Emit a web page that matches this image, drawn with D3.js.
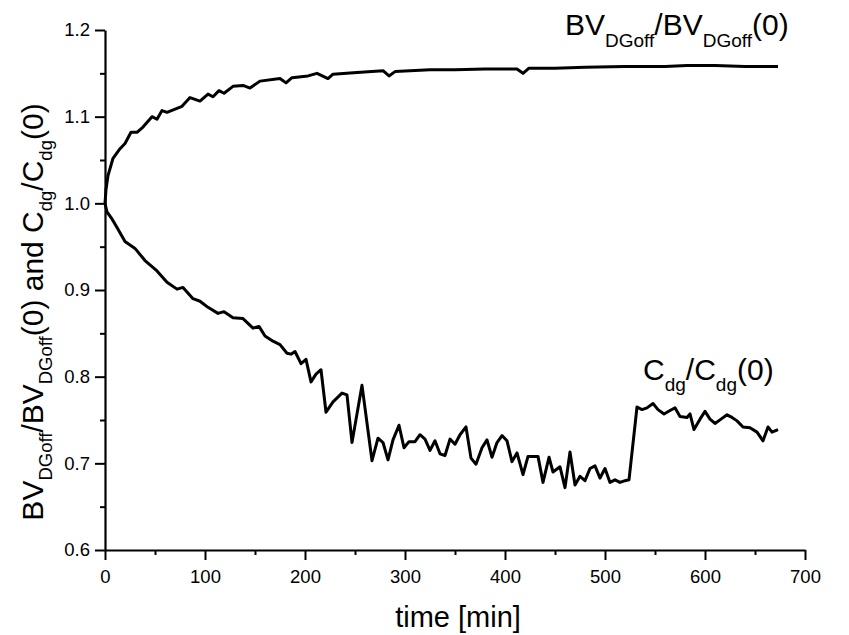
<!DOCTYPE html>
<html>
<head>
<meta charset="utf-8">
<script src="https://cdn.jsdelivr.net/npm/d3@7"></script>
<style>
  body { margin: 0; background: #fff; }
  svg text { font-family: "Liberation Sans", Arial, Helvetica, sans-serif; fill: #000; }
</style>
</head>
<body>
<script>
// BV_DGoff / BV_DGoff(0)
const bvTime = [0,1,3,8,15,20,26,32,38,47,52,57,62,77,85,95,103,108,114,119,128,138,145,155,175,181,187,203,212,223,228,252,278,284,290,325,350,380,412,418,424,450,480,520,560,582,610,640,673];
const bvRatio = [1.000,1.016,1.032,1.052,1.063,1.069,1.082,1.082,1.088,1.100,1.097,1.107,1.105,1.112,1.122,1.118,1.126,1.123,1.130,1.127,1.135,1.136,1.133,1.141,1.144,1.139,1.145,1.147,1.150,1.144,1.149,1.151,1.153,1.147,1.152,1.154,1.154,1.155,1.155,1.150,1.156,1.156,1.157,1.158,1.158,1.159,1.159,1.158,1.158];

// C_dg / C_dg(0)
const cdgTime = [0,2,7,12,20,30,40,52,62,72,78,88,95,103,113,119,128,138,148,154,160,168,175,182,186,190,196,201,206,211,216,221,228,237,242,247,257,267,273,278,283,288,294,299,304,310,315,320,325,330,335,340,345,350,355,361,366,371,377,382,387,392,397,402,407,412,418,423,433,438,444,448,455,460,465,470,475,480,485,490,495,500,505,510,515,520,524,532,537,542,548,553,559,565,570,575,582,585,589,595,600,605,610,616,622,627,632,638,645,652,658,663,667,673];
const cdgRatio = [1.000,0.990,0.982,0.972,0.956,0.948,0.934,0.922,0.909,0.901,0.903,0.890,0.887,0.880,0.873,0.875,0.868,0.867,0.856,0.858,0.847,0.841,0.837,0.827,0.826,0.829,0.815,0.820,0.794,0.803,0.808,0.759,0.771,0.781,0.779,0.724,0.790,0.703,0.729,0.724,0.704,0.727,0.744,0.718,0.725,0.725,0.733,0.728,0.715,0.726,0.711,0.709,0.728,0.722,0.733,0.742,0.706,0.699,0.718,0.727,0.707,0.724,0.732,0.726,0.702,0.712,0.687,0.708,0.708,0.678,0.707,0.690,0.696,0.672,0.713,0.675,0.685,0.680,0.694,0.697,0.683,0.694,0.678,0.681,0.678,0.680,0.681,0.765,0.762,0.764,0.769,0.762,0.757,0.761,0.764,0.754,0.753,0.757,0.739,0.751,0.760,0.751,0.746,0.751,0.756,0.753,0.749,0.742,0.741,0.736,0.726,0.742,0.736,0.739];

const xMajor = [0,100,200,300,400,500,600,700];
const xMinor = [50,150,250,350,450,550,650];
const yMajor = [0.6,0.7,0.8,0.9,1.0,1.1,1.2];
const yMinor = [0.65,0.75,0.85,0.95,1.05,1.15];

const w = 849, h = 635;
const m = { left: 105, top: 30, right: 44, bottom: 85 };

const svg = d3.select('body').append('svg')
    .attr('width', w)
    .attr('height', h);

const x = d3.scaleLinear().domain([0, 700]).range([m.left, w - m.right]);
const y = d3.scaleLinear().domain([0.6, 1.2]).range([h - m.bottom, m.top]);

// minor ticks first, so the major axis sits on top
svg.append('g')
    .attr('transform', 'translate(0,' + (h - m.bottom) + ')')
    .call(d3.axisBottom(x).tickValues(xMinor).tickSize(5).tickFormat(''))
    .call(g => g.select('.domain').remove())
    .selectAll('line').attr('stroke-width', 2);

svg.append('g')
    .attr('transform', 'translate(' + m.left + ',0)')
    .call(d3.axisLeft(y).tickValues(yMinor).tickSize(5).tickFormat(''))
    .call(g => g.select('.domain').remove())
    .selectAll('line').attr('stroke-width', 2);

const xAxis = svg.append('g')
    .attr('transform', 'translate(0,' + (h - m.bottom) + ')')
    .call(d3.axisBottom(x).tickValues(xMajor).tickSize(10).tickSizeOuter(0).tickPadding(10).tickFormat(d3.format('d')));

const yAxis = svg.append('g')
    .attr('transform', 'translate(' + m.left + ',0)')
    .call(d3.axisLeft(y).tickValues(yMajor).tickSize(10).tickSizeOuter(0).tickPadding(5).tickFormat(d3.format('.1f')));

[xAxis, yAxis].forEach(a => {
    a.select('.domain').attr('stroke-width', 2.2);
    a.selectAll('line').attr('stroke-width', 2);
    a.selectAll('text').attr('font-size', 18.5).attr('font-family', null);
});

const line = d3.line()
    .x(d => x(d[0]))
    .y(d => y(d[1]));

svg.append('path')
    .datum(d3.zip(bvTime, bvRatio))
    .attr('fill', 'none')
    .attr('stroke', '#000')
    .attr('stroke-width', 3)
    .attr('stroke-linejoin', 'round')
    .attr('d', line);

svg.append('path')
    .datum(d3.zip(cdgTime, cdgRatio))
    .attr('fill', 'none')
    .attr('stroke', '#000')
    .attr('stroke-width', 3)
    .attr('stroke-linejoin', 'round')
    .attr('d', line);

// axis titles
svg.append('text')
    .attr('x', (x(0) + x(700)) / 2 + 3)
    .attr('y', 627)
    .attr('text-anchor', 'middle')
    .attr('font-size', 29)
    .text('time [min]');

function ratioLabel(sel, parts, size, subSize, shift) {
    parts.forEach(p => {
        sel.append('tspan')
            .attr('font-size', p.sub ? subSize : size)
            .attr('dy', p.sub ? shift : (p.back ? -shift : 0))
            .text(p.t);
    });
}

const yLab = svg.append('text')
    .attr('transform', 'translate(43,312) rotate(-90)')
    .attr('text-anchor', 'middle');
ratioLabel(yLab, [
    { t: 'BV' }, { t: 'DGoff', sub: true }, { t: '/BV', back: true }, { t: 'DGoff', sub: true },
    { t: '(0) and C', back: true }, { t: 'dg', sub: true }, { t: '/C', back: true },
    { t: 'dg', sub: true }, { t: '(0)', back: true }
], 30, 18.5, 9);

// curve annotations
const bvLab = svg.append('text').attr('x', 565).attr('y', 35);
ratioLabel(bvLab, [
    { t: 'BV' }, { t: 'DGoff', sub: true }, { t: '/BV', back: true },
    { t: 'DGoff', sub: true }, { t: '(0)', back: true }
], 30, 19, 12);

const cLab = svg.append('text').attr('x', 643).attr('y', 380);
ratioLabel(cLab, [
    { t: 'C' }, { t: 'dg', sub: true }, { t: '/C', back: true },
    { t: 'dg', sub: true }, { t: '(0)', back: true }
], 30, 19, 11);
</script>
</body>
</html>
